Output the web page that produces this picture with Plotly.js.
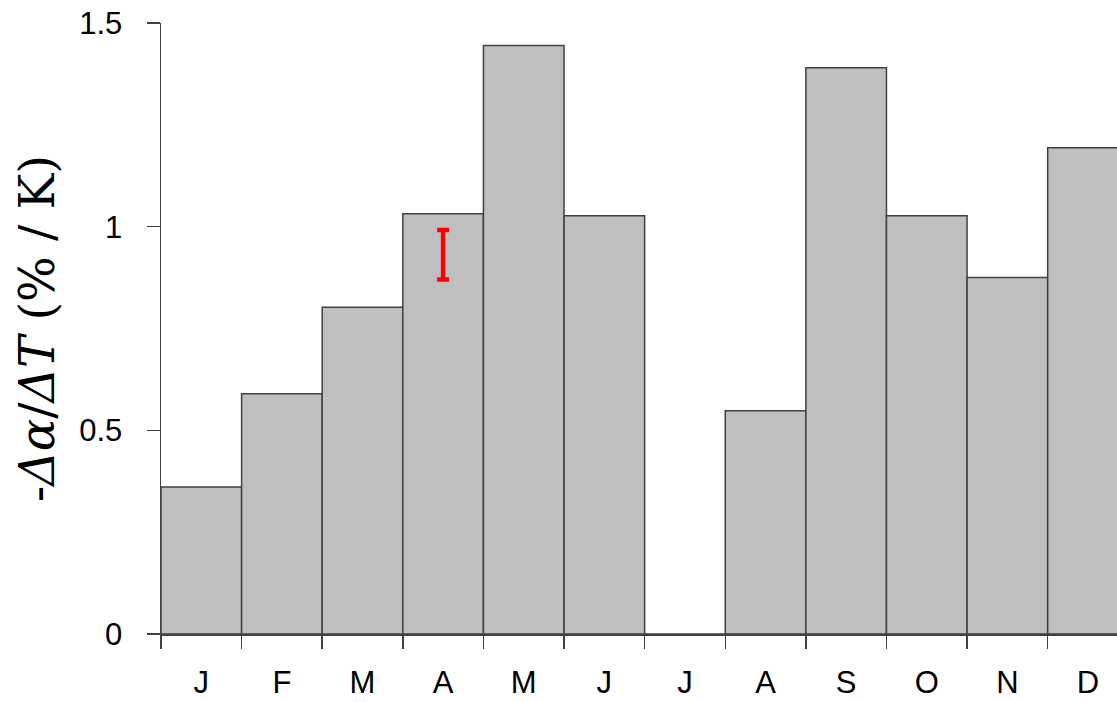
<!DOCTYPE html>
<html>
<head>
<meta charset="utf-8">
<script src="https://cdn.plot.ly/plotly-3.0.1.min.js"></script>
<style>
  html, body { margin: 0; padding: 0; background: #ffffff; }
  #chart { width: 1117px; height: 702px; }
</style>
</head>
<body>
<div id="chart"></div>
<script>
// Monthly sensitivity of albedo change to temperature change
const months = ["Jan", "Feb", "Mar", "Apr", "May", "Jun", "Jul", "Aug", "Sep", "Oct", "Nov", "Dec"];
const monthLetters = ["J", "F", "M", "A", "M", "J", "J", "A", "S", "O", "N", "D"];
const sensitivity = [0.361, 0.590, 0.802, 1.032, 1.445, 1.027, 0.0, 0.548, 1.390, 1.027, 0.875, 1.194];

// Uncertainty range shown for April
const errMonth = ["Apr"];
const errCenter = [0.931];
const errHalf = [0.061];

const yTickVals = [0, 0.5, 1, 1.5];
const yTickText = ["0", "0.5", "1", "1.5"];

const axisColor = "#404040";
const tickFont = { size: 31, family: "Liberation Sans, Arial, sans-serif", color: "#000000" };

const traces = [
  {
    type: "bar",
    x: months,
    y: sensitivity,
    marker: { color: "#bfbfbf", line: { color: "#404040", width: 1.5 } },
    hoverinfo: "x+y"
  },
  {
    type: "scatter",
    mode: "markers",
    x: errMonth,
    y: errCenter,
    marker: { size: 1, color: "rgba(0,0,0,0)" },
    error_y: { type: "data", array: errHalf, visible: true, color: "#ff0000", thickness: 4.5, width: 6 },
    hoverinfo: "skip"
  }
];

const layout = {
  width: 1117,
  height: 702,
  paper_bgcolor: "#ffffff",
  plot_bgcolor: "#ffffff",
  showlegend: false,
  bargap: 0,
  margin: { l: 161, r: 0, t: 23, b: 68, pad: 0 },
  font: { family: "Liberation Sans, Arial, sans-serif", color: "#000000" },
  xaxis: {
    type: "category",
    range: [-0.5, 11.36],
    tickmode: "array",
    tickvals: months,
    ticktext: monthLetters,
    tickson: "boundaries",
    ticks: "outside",
    ticklen: 13,
    tickwidth: 1.5,
    tickcolor: axisColor,
    showline: true,
    linecolor: axisColor,
    linewidth: 1.5,
    showgrid: false,
    zeroline: false,
    tickfont: tickFont,
    ticklabelstandoff: 20,
    automargin: false,
    fixedrange: true
  },
  yaxis: {
    range: [0, 1.5],
    tickmode: "array",
    tickvals: yTickVals,
    ticktext: yTickText,
    ticks: "outside",
    ticklen: 13,
    tickwidth: 1.5,
    tickcolor: axisColor,
    showline: true,
    linecolor: axisColor,
    linewidth: 1.5,
    showgrid: false,
    zeroline: false,
    tickfont: tickFont,
    ticklabelstandoff: 18,
    automargin: false,
    title: {
      text: "-<i>Δα</i>/<i>ΔT</i> (% / K)",
      font: { size: 48, family: "DejaVu Serif, Liberation Serif, serif", color: "#000000" },
      standoff: 9
    },
    fixedrange: true
  }
};

Plotly.newPlot("chart", traces, layout, { displayModeBar: false, staticPlot: true });
</script>
</body>
</html>
